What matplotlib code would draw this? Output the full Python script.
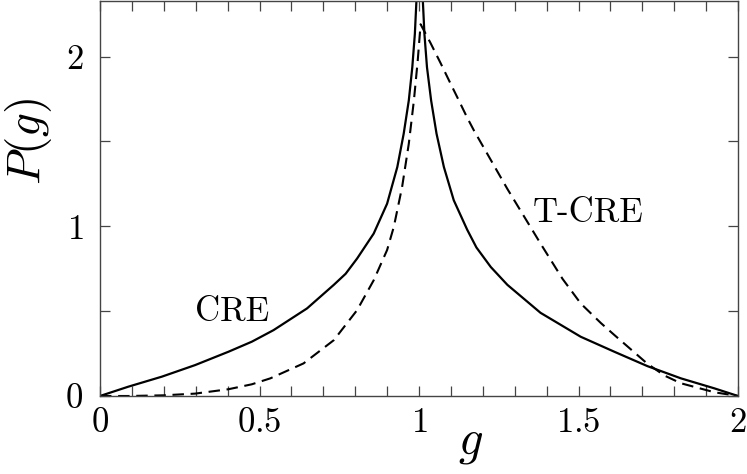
import numpy as np
import matplotlib
matplotlib.use("Agg")
import matplotlib.pyplot as plt
from matplotlib.ticker import MultipleLocator

plt.rcParams['font.family'] = 'serif'
plt.rcParams['font.serif'] = ['cmr10', 'DejaVu Serif']
plt.rcParams['mathtext.fontset'] = 'cm'
plt.rcParams['axes.formatter.use_mathtext'] = True

# CRE (solid), values
cre_g = [0.0, 0.089, 0.194, 0.298, 0.403, 0.476, 0.544, 0.649, 0.733, 0.77, 0.806,
         0.858, 0.900, 0.932, 0.952, 0.968, 0.979, 0.987, 0.992, 1.0025,
         1.012, 1.017, 1.025, 1.038, 1.055, 1.078, 1.109, 1.151, 1.18,
         1.225, 1.277, 1.381, 1.507, 1.612, 1.716, 1.821, 1.926, 2.0]
cre_p = [0.0, 0.055, 0.114, 0.182, 0.261, 0.32, 0.388, 0.516, 0.655, 0.72, 0.81,
         0.957, 1.133, 1.349, 1.545, 1.741, 1.937, 2.133, 2.33, 3.2,
         2.33, 2.133, 1.937, 1.741, 1.545, 1.349, 1.153, 0.98, 0.875,
         0.76, 0.655, 0.49, 0.349, 0.261, 0.176, 0.104, 0.045, 0.0]

# T-CRE (dashed)
tcre_g = [0.0, 0.089, 0.2, 0.298, 0.403, 0.476, 0.534, 0.638, 0.733, 0.806,
          0.858, 0.900, 0.921, 0.947, 0.968, 0.984, 0.996, 1.005,
          1.036, 1.068, 1.099, 1.12, 1.151, 1.172, 1.277, 1.381, 1.45,
          1.507, 1.57, 1.612, 1.716, 1.77, 1.821, 1.926, 2.0]
tcre_p = [0.0, 0.0, 0.004, 0.014, 0.04, 0.069, 0.104, 0.192, 0.329, 0.506,
          0.682, 0.86, 0.996, 1.231, 1.486, 1.741, 1.976, 2.19,
          2.08, 1.96, 1.84, 1.76, 1.64, 1.565, 1.22, 0.898, 0.69,
          0.545, 0.43, 0.36, 0.19, 0.12, 0.075, 0.022, 0.0]

xticks = [0, 0.5, 1, 1.5, 2]
xlabels = ['0', '0.5', '1', '1.5', '2']
yticks = [0, 1, 2]
ylabels = ['0', '1', '2']

fig = plt.figure(figsize=(7.47, 4.74), dpi=100)
ax = fig.add_axes([100 / 747, 78 / 474, 638 / 747, 395.5 / 474])

ax.plot(cre_g, cre_p, color='black', lw=1.6)
ax.plot(tcre_g, tcre_p, color='black', lw=1.5, linestyle=(0, (5.5, 3.2)))

ax.set_xlim(0, 2)
ax.set_ylim(0, 2.33)

ax.set_xticks(xticks, labels=['$%s$' % s for s in xlabels])
ax.set_yticks(yticks, labels=['$%s$' % s for s in ylabels])
ax.xaxis.set_minor_locator(MultipleLocator(0.1))
ax.yaxis.set_minor_locator(MultipleLocator(0.5))
ax.tick_params(which='both', direction='in', top=True, right=True,
               length=7, width=0.9, color='#444444', labelsize=25)
ax.tick_params(axis='x', pad=8)
ax.tick_params(axis='y', pad=12)
for sp in ax.spines.values():
    sp.set_color('#444444')
    sp.set_linewidth(1.0)

ax.set_xlabel('$g$', fontsize=35)
ax.set_ylabel('$P(g)$', fontsize=34)
ax.xaxis.set_label_coords(0.58, -0.065)
ax.yaxis.set_label_coords(-0.072, 0.644)

ax.text(0.414, 0.496, 'CRE', fontsize=25, ha='center', va='center')
ax.text(1.531, 1.075, 'T-CRE', fontsize=25, ha='center', va='center')

fig.savefig('out.png', dpi=100)
